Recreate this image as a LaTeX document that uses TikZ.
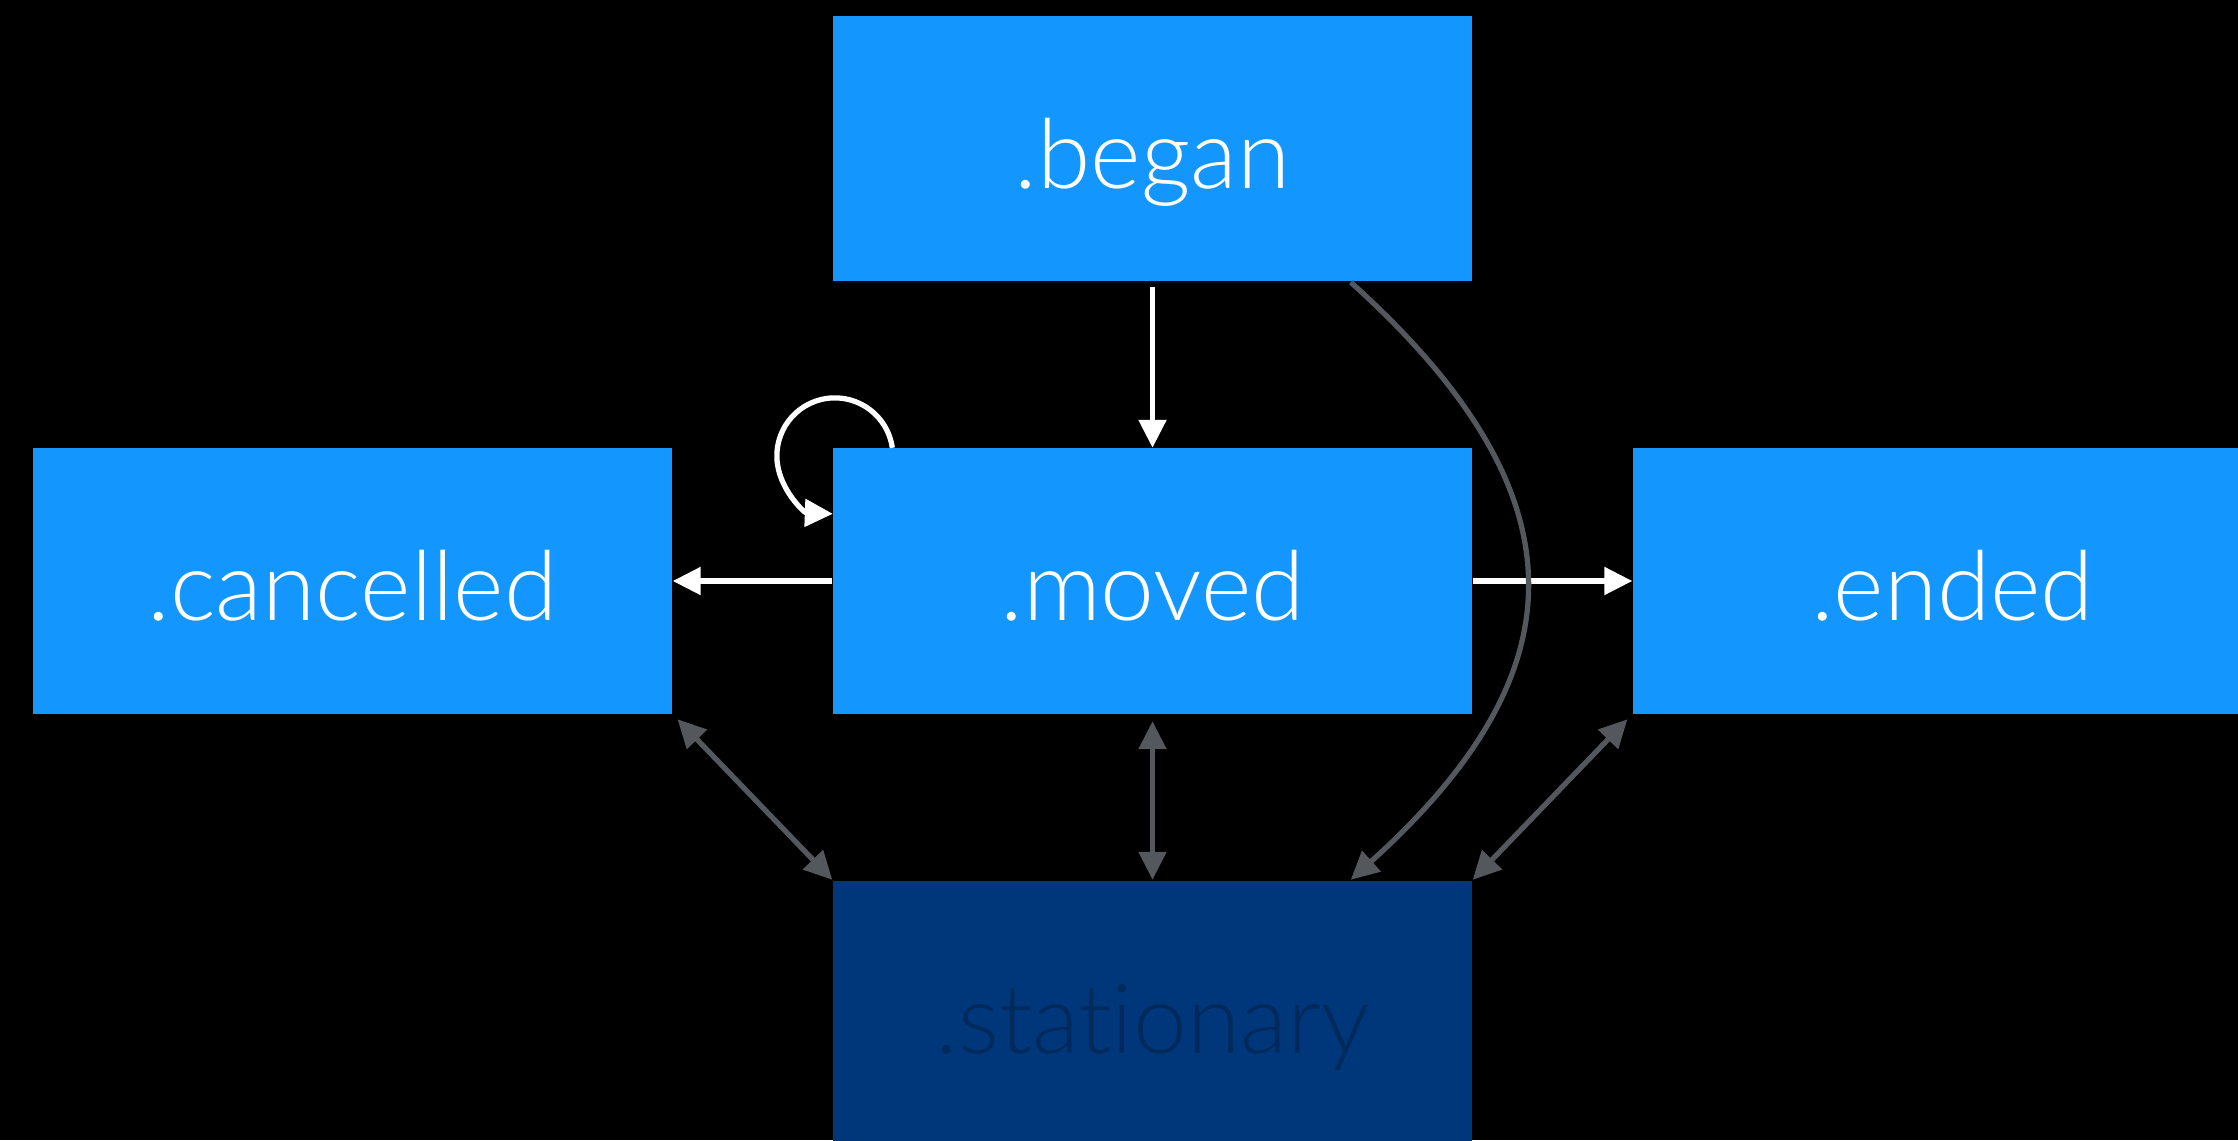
\documentclass[tikz,border=0pt]{standalone}
\usepackage{fontspec}
\setmainfont{Lato}[UprightFont=* Light, Ligatures=NoCommon]
\usetikzlibrary{arrows.meta}
\definecolor{touchblue}{RGB}{20,150,255}
\definecolor{stillblue}{RGB}{0,55,122}
\definecolor{stilltext}{RGB}{0,42,92}
\definecolor{edgegray}{RGB}{84,87,92}

\begin{document}
\begin{tikzpicture}[
    phase/.style={fill=touchblue, text=white, inner sep=0pt,
      minimum width=6.39cm, minimum height=2.65cm,
      text height=0.8cm, text depth=0pt,
      font=\fontsize{27.5}{33}\selectfont},
    flow/.style={white, line width=1.5pt, -{Triangle[length=2.8mm,width=2.7mm]}},
    idle/.style={edgegray, line width=1.5pt, {Triangle[length=2.8mm,width=2.7mm]}-{Triangle[length=2.8mm,width=2.7mm]}}
  ]
    \clip (0,0) rectangle (22.38,11.40);
    \fill[black] (0,0) rectangle (22.38,11.40);
    \node[phase] (began) at (11.525,9.91) {.began};
    \node[phase] (moved) at (11.525,5.59) {.moved};
    \node[phase] (cancelled) at (3.525,5.59) {.cancelled};
    \node[phase] (ended) at (19.525,5.59) {.ended};
    \node[phase, fill=stillblue, text=stilltext] (stationary) at (11.525,1.27) {.stationary};
  % white transitions
    \draw[flow, shorten <=1.5pt] (began) -- (moved);
    \draw[flow] (moved) -- (cancelled);
    \draw[flow] (moved) -- (ended);
    \draw[flow] ([xshift=6mm]moved.north west) arc[start angle=8, end angle=268, radius=0.58];
  % to and from stationary
    \draw[idle, shorten <=2pt] (cancelled.south east) -- (stationary.north west);
    \draw[idle, shorten <=2pt] (moved) -- (stationary);
    \draw[idle, shorten <=2pt] (ended.south west) -- (stationary.north east);
    \draw[edgegray, line width=1.5pt, -{Triangle[length=2.8mm,width=2.7mm]}]
      ([xshift=-1.22cm]began.south east) to[out=-42, in=42, looseness=1.35]
      ([xshift=-1.22cm]stationary.north east);
\end{tikzpicture}
\end{document}
